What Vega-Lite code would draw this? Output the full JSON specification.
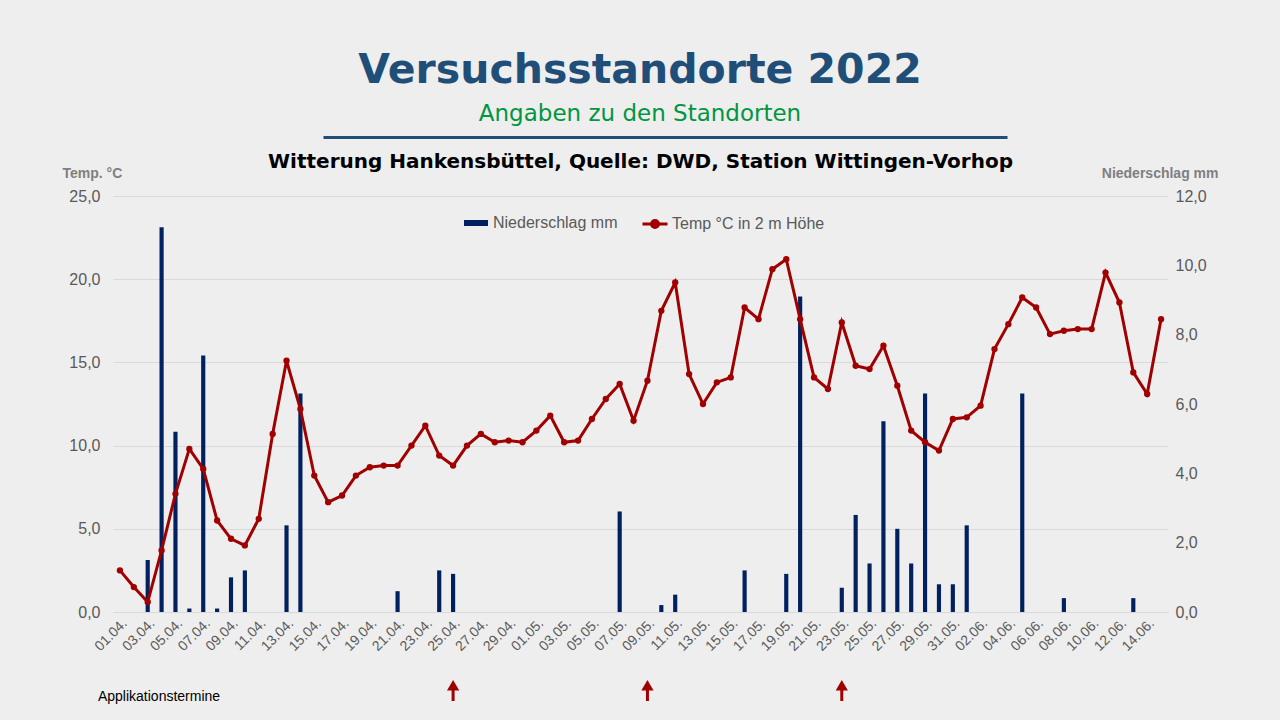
{
  "$schema": "https://vega.github.io/schema/vega-lite/v6.json",
  "background": "#eeeeee",
  "padding": {"left": 62, "top": 50, "right": 62, "bottom": 16},
  "config": {
    "locale": {"number": {"decimal": ",", "thousands": ".", "grouping": [3], "currency": ["", " €"]}},
    "font": "Liberation Sans",
    "view": {"stroke": null}
  },
  "title": {
    "text": "Versuchsstandorte 2022",
    "subtitle": "Angaben zu den Standorten",
    "font": "DejaVu Sans",
    "fontSize": 41,
    "fontWeight": "bold",
    "color": "#1f4e79",
    "subtitleFont": "DejaVu Sans",
    "subtitleFontSize": 23,
    "subtitleColor": "#00963f",
    "subtitlePadding": 11,
    "anchor": "middle",
    "offset": 9
  },
  "datasets": {
    "wetter": [
      {"Datum": "01.04.", "Temp": 2.5, "Niederschlag": 0, "Applikation": false},
      {"Datum": "02.04.", "Temp": 1.5, "Niederschlag": 0, "Applikation": false},
      {"Datum": "03.04.", "Temp": 0.6, "Niederschlag": 1.5, "Applikation": false},
      {"Datum": "04.04.", "Temp": 3.7, "Niederschlag": 11.1, "Applikation": false},
      {"Datum": "05.04.", "Temp": 7.1, "Niederschlag": 5.2, "Applikation": false},
      {"Datum": "06.04.", "Temp": 9.8, "Niederschlag": 0.1, "Applikation": false},
      {"Datum": "07.04.", "Temp": 8.6, "Niederschlag": 7.4, "Applikation": false},
      {"Datum": "08.04.", "Temp": 5.5, "Niederschlag": 0.1, "Applikation": false},
      {"Datum": "09.04.", "Temp": 4.4, "Niederschlag": 1.0, "Applikation": false},
      {"Datum": "10.04.", "Temp": 4.0, "Niederschlag": 1.2, "Applikation": false},
      {"Datum": "11.04.", "Temp": 5.6, "Niederschlag": 0, "Applikation": false},
      {"Datum": "12.04.", "Temp": 10.7, "Niederschlag": 0, "Applikation": false},
      {"Datum": "13.04.", "Temp": 15.1, "Niederschlag": 2.5, "Applikation": false},
      {"Datum": "14.04.", "Temp": 12.2, "Niederschlag": 6.3, "Applikation": false},
      {"Datum": "15.04.", "Temp": 8.2, "Niederschlag": 0, "Applikation": false},
      {"Datum": "16.04.", "Temp": 6.6, "Niederschlag": 0, "Applikation": false},
      {"Datum": "17.04.", "Temp": 7.0, "Niederschlag": 0, "Applikation": false},
      {"Datum": "18.04.", "Temp": 8.2, "Niederschlag": 0, "Applikation": false},
      {"Datum": "19.04.", "Temp": 8.7, "Niederschlag": 0, "Applikation": false},
      {"Datum": "20.04.", "Temp": 8.8, "Niederschlag": 0, "Applikation": false},
      {"Datum": "21.04.", "Temp": 8.8, "Niederschlag": 0.6, "Applikation": false},
      {"Datum": "22.04.", "Temp": 10.0, "Niederschlag": 0, "Applikation": false},
      {"Datum": "23.04.", "Temp": 11.2, "Niederschlag": 0, "Applikation": false},
      {"Datum": "24.04.", "Temp": 9.4, "Niederschlag": 1.2, "Applikation": false},
      {"Datum": "25.04.", "Temp": 8.8, "Niederschlag": 1.1, "Applikation": true},
      {"Datum": "26.04.", "Temp": 10.0, "Niederschlag": 0, "Applikation": false},
      {"Datum": "27.04.", "Temp": 10.7, "Niederschlag": 0, "Applikation": false},
      {"Datum": "28.04.", "Temp": 10.2, "Niederschlag": 0, "Applikation": false},
      {"Datum": "29.04.", "Temp": 10.3, "Niederschlag": 0, "Applikation": false},
      {"Datum": "30.04.", "Temp": 10.2, "Niederschlag": 0, "Applikation": false},
      {"Datum": "01.05.", "Temp": 10.9, "Niederschlag": 0, "Applikation": false},
      {"Datum": "02.05.", "Temp": 11.8, "Niederschlag": 0, "Applikation": false},
      {"Datum": "03.05.", "Temp": 10.2, "Niederschlag": 0, "Applikation": false},
      {"Datum": "04.05.", "Temp": 10.3, "Niederschlag": 0, "Applikation": false},
      {"Datum": "05.05.", "Temp": 11.6, "Niederschlag": 0, "Applikation": false},
      {"Datum": "06.05.", "Temp": 12.8, "Niederschlag": 0, "Applikation": false},
      {"Datum": "07.05.", "Temp": 13.7, "Niederschlag": 2.9, "Applikation": false},
      {"Datum": "08.05.", "Temp": 11.5, "Niederschlag": 0, "Applikation": false},
      {"Datum": "09.05.", "Temp": 13.9, "Niederschlag": 0, "Applikation": true},
      {"Datum": "10.05.", "Temp": 18.1, "Niederschlag": 0.2, "Applikation": false},
      {"Datum": "11.05.", "Temp": 19.8, "Niederschlag": 0.5, "Applikation": false},
      {"Datum": "12.05.", "Temp": 14.3, "Niederschlag": 0, "Applikation": false},
      {"Datum": "13.05.", "Temp": 12.5, "Niederschlag": 0, "Applikation": false},
      {"Datum": "14.05.", "Temp": 13.8, "Niederschlag": 0, "Applikation": false},
      {"Datum": "15.05.", "Temp": 14.1, "Niederschlag": 0, "Applikation": false},
      {"Datum": "16.05.", "Temp": 18.3, "Niederschlag": 1.2, "Applikation": false},
      {"Datum": "17.05.", "Temp": 17.6, "Niederschlag": 0, "Applikation": false},
      {"Datum": "18.05.", "Temp": 20.6, "Niederschlag": 0, "Applikation": false},
      {"Datum": "19.05.", "Temp": 21.2, "Niederschlag": 1.1, "Applikation": false},
      {"Datum": "20.05.", "Temp": 17.6, "Niederschlag": 9.1, "Applikation": false},
      {"Datum": "21.05.", "Temp": 14.1, "Niederschlag": 0, "Applikation": false},
      {"Datum": "22.05.", "Temp": 13.4, "Niederschlag": 0, "Applikation": false},
      {"Datum": "23.05.", "Temp": 17.4, "Niederschlag": 0.7, "Applikation": true},
      {"Datum": "24.05.", "Temp": 14.8, "Niederschlag": 2.8, "Applikation": false},
      {"Datum": "25.05.", "Temp": 14.6, "Niederschlag": 1.4, "Applikation": false},
      {"Datum": "26.05.", "Temp": 16.0, "Niederschlag": 5.5, "Applikation": false},
      {"Datum": "27.05.", "Temp": 13.6, "Niederschlag": 2.4, "Applikation": false},
      {"Datum": "28.05.", "Temp": 10.9, "Niederschlag": 1.4, "Applikation": false},
      {"Datum": "29.05.", "Temp": 10.2, "Niederschlag": 6.3, "Applikation": false},
      {"Datum": "30.05.", "Temp": 9.7, "Niederschlag": 0.8, "Applikation": false},
      {"Datum": "31.05.", "Temp": 11.6, "Niederschlag": 0.8, "Applikation": false},
      {"Datum": "01.06.", "Temp": 11.7, "Niederschlag": 2.5, "Applikation": false},
      {"Datum": "02.06.", "Temp": 12.4, "Niederschlag": 0, "Applikation": false},
      {"Datum": "03.06.", "Temp": 15.8, "Niederschlag": 0, "Applikation": false},
      {"Datum": "04.06.", "Temp": 17.3, "Niederschlag": 0, "Applikation": false},
      {"Datum": "05.06.", "Temp": 18.9, "Niederschlag": 6.3, "Applikation": false},
      {"Datum": "06.06.", "Temp": 18.3, "Niederschlag": 0, "Applikation": false},
      {"Datum": "07.06.", "Temp": 16.7, "Niederschlag": 0, "Applikation": false},
      {"Datum": "08.06.", "Temp": 16.9, "Niederschlag": 0.4, "Applikation": false},
      {"Datum": "09.06.", "Temp": 17.0, "Niederschlag": 0, "Applikation": false},
      {"Datum": "10.06.", "Temp": 17.0, "Niederschlag": 0, "Applikation": false},
      {"Datum": "11.06.", "Temp": 20.4, "Niederschlag": 0, "Applikation": false},
      {"Datum": "12.06.", "Temp": 18.6, "Niederschlag": 0, "Applikation": false},
      {"Datum": "13.06.", "Temp": 14.4, "Niederschlag": 0.4, "Applikation": false},
      {"Datum": "14.06.", "Temp": 13.1, "Niederschlag": 0, "Applikation": false},
      {"Datum": "15.06.", "Temp": 17.6, "Niederschlag": 0, "Applikation": false}
    ]
  },
  "spacing": 13,
  "center": true,
  "vconcat": [
    {
      "width": 684,
      "height": 3,
      "view": {"fill": "#1f4e79", "stroke": null},
      "data": {"values": [{}]},
      "mark": {"type": "point", "size": 0, "opacity": 0},
      "encoding": {}
    },
    {
      "width": 1055,
      "height": 416,
      "data": {"name": "wetter"},
      "title": {
        "text": "Witterung Hankensbüttel, Quelle: DWD, Station Wittingen-Vorhop",
        "font": "DejaVu Sans",
        "fontSize": 20,
        "fontWeight": "bold",
        "color": "#000000",
        "anchor": "middle",
        "frame": "group",
        "offset": -6
      },
      "layer": [
        {
          "mark": {"type": "bar", "width": {"band": 0.3}},
          "encoding": {
            "x": {
              "field": "Datum",
              "type": "ordinal",
              "sort": null,
              "scale": {"type": "band", "paddingInner": 0, "paddingOuter": 0},
              "axis": {
                "title": null,
                "values": ["01.04.", "03.04.", "05.04.", "07.04.", "09.04.", "11.04.", "13.04.", "15.04.", "17.04.", "19.04.", "21.04.", "23.04.", "25.04.", "27.04.", "29.04.", "01.05.", "03.05.", "05.05.", "07.05.", "09.05.", "11.05.", "13.05.", "15.05.", "17.05.", "19.05.", "21.05.", "23.05.", "25.05.", "27.05.", "29.05.", "31.05.", "02.06.", "04.06.", "06.06.", "08.06.", "10.06.", "12.06.", "14.06."],
                "labelAngle": -45,
                "labelFontSize": 14,
                "labelColor": "#595959",
                "labelPadding": 4,
                "ticks": false,
                "domain": false,
                "grid": false
              }
            },
            "y": {
              "field": "Niederschlag",
              "type": "quantitative",
              "scale": {"domain": [0, 12], "nice": false},
              "axis": {
                "orient": "right",
                "values": [0, 2, 4, 6, 8, 10, 12],
                "format": ".1f",
                "grid": false,
                "domain": false,
                "ticks": false,
                "labelFontSize": 16,
                "labelColor": "#595959",
                "labelPadding": 7,
                "title": "Niederschlag mm",
                "titleAngle": 0,
                "titleAlign": "right",
                "titleBaseline": "alphabetic",
                "titleX": 50,
                "titleY": -19,
                "titleFontSize": 14,
                "titleFontWeight": "bold",
                "titleColor": "#7f7f7f"
              }
            },
            "color": {
              "datum": "Niederschlag mm",
              "scale": {"range": ["#002060"]},
              "legend": {
                "title": null,
                "orient": "none",
                "legendX": 350,
                "legendY": 14,
                "symbolType": "M-1,-0.25H1V0.25H-1Z",
                "symbolSize": 576,
                "labelFontSize": 16,
                "labelColor": "#595959",
                "labelOffset": 4
              }
            }
          }
        },
        {
          "layer": [
            {
              "mark": {"type": "line", "strokeWidth": 3, "point": {"filled": true, "size": 40}},
              "encoding": {
                "x": {"field": "Datum", "type": "ordinal", "sort": null},
                "y": {
                  "field": "Temp",
                  "type": "quantitative",
                  "scale": {"domain": [0, 25], "nice": false},
                  "axis": {
                    "orient": "left",
                    "values": [0, 5, 10, 15, 20, 25],
                    "format": ".1f",
                    "grid": true,
                    "gridColor": "#d9d9d9",
                    "domain": false,
                    "ticks": false,
                    "labelFontSize": 16,
                    "labelColor": "#595959",
                    "labelPadding": 13,
                    "title": "Temp. °C",
                    "titleAngle": 0,
                    "titleAlign": "left",
                    "titleBaseline": "alphabetic",
                    "titleX": -51,
                    "titleY": -19,
                    "titleFontSize": 14,
                    "titleFontWeight": "bold",
                    "titleColor": "#7f7f7f"
                  }
                },
                "color": {
                  "datum": "Temp °C in 2 m Höhe",
                  "scale": {"range": ["#a00000"]},
                  "legend": {
                    "title": null,
                    "orient": "none",
                    "legendX": 528,
                    "legendY": 14,
                    "symbolType": "M-1,0H1M-0.28,0A0.28,0.28,0,1,1,0.28,0A0.28,0.28,0,1,1,-0.28,0Z",
                    "symbolSize": 625,
                    "symbolStrokeWidth": 3,
                    "labelFontSize": 16,
                    "labelColor": "#595959",
                    "labelOffset": 3,
                    "encode": {"symbols": {"update": {"fill": {"value": "#a00000"}, "stroke": {"value": "#a00000"}, "strokeWidth": {"value": 3}}}}
                  }
                }
              }
            },
            {
              "transform": [{"filter": "datum.Applikation"}],
              "mark": {"type": "rule", "color": "#a00000", "strokeWidth": 3},
              "encoding": {
                "x": {"field": "Datum", "type": "ordinal", "sort": null},
                "y": {"datum": -4.6, "type": "quantitative"},
                "y2": {"datum": -5.35}
              }
            },
            {
              "transform": [{"filter": "datum.Applikation"}],
              "mark": {"type": "point", "shape": "triangle-up", "filled": true, "size": 150, "color": "#a00000", "opacity": 1},
              "encoding": {
                "x": {"field": "Datum", "type": "ordinal", "sort": null},
                "y": {"datum": -4.4, "type": "quantitative"}
              }
            },
            {
              "transform": [{"filter": "datum.Datum == '01.04.'"}],
              "mark": {"type": "text", "align": "left", "baseline": "middle", "fontSize": 14, "color": "#000000", "dx": -22},
              "encoding": {
                "x": {"field": "Datum", "type": "ordinal", "sort": null},
                "y": {"datum": -5.1, "type": "quantitative"},
                "text": {"value": "Applikationstermine"}
              }
            }
          ]
        }
      ],
      "resolve": {"scale": {"y": "independent", "color": "independent"}}
    }
  ]
}
